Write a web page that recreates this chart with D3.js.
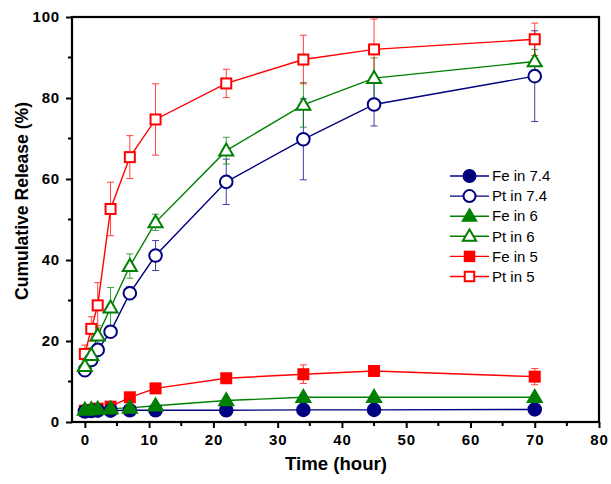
<!DOCTYPE html>
<html><head><meta charset="utf-8">
<script src="https://cdn.jsdelivr.net/npm/d3@7"></script>
<style>body{margin:0;background:#fff}svg{display:block}text{font-family:"Liberation Sans",Arial,sans-serif}</style>
</head><body><svg id="c" width="611" height="484"></svg>
<script>
const times = [0, 1, 2, 4, 7, 11, 22, 34, 45, 70];
const seriesNames = ["Fe in 7.4", "Pt in 7.4", "Fe in 6", "Pt in 6", "Fe in 5", "Pt in 5"];
const seriesColors = ["#000080", "#000080", "#008000", "#008000", "#ff0000", "#ff0000"];
const seriesShapes = ["circle", "circle", "triangle", "triangle", "square", "square"];
const seriesFilled = [true, false, true, false, true, false];
const fe74 = [2.6, 2.7, 2.8, 2.8, 2.9, 2.9, 2.9, 3.0, 3.0, 3.1];
const fe74Err = [0.3, 0.3, 0.3, 0.3, 0.3, 0.3, 0.3, 0.3, 0.3, 0.3];
const pt74 = [12.8, 15.3, 17.8, 22.3, 31.8, 41.1, 59.3, 69.8, 78.4, 85.4];
const pt74Err = [1.6, 1.2, 1.5, 1.5, 1.6, 3.7, 5.6, 10.0, 5.3, 11.2];
const fe6 = [3.0, 3.1, 3.2, 3.3, 3.5, 4.0, 5.3, 6.1, 6.1, 6.1];
const fe6Err = [0.4, 0.4, 0.4, 0.4, 0.4, 0.4, 0.5, 0.6, 0.5, 0.5];
const pt6 = [13.8, 16.5, 21.3, 28.2, 38.5, 49.3, 67.0, 78.3, 84.9, 89.0];
const pt6Err = [1.5, 1.8, 2.5, 5.0, 3.0, 2.0, 3.3, 5.5, 5.0, 3.0];
const fe5 = [2.8, 3.0, 3.3, 3.8, 6.1, 8.3, 10.8, 11.8, 12.6, 11.2];
const fe5Err = [0.4, 0.4, 0.4, 0.5, 0.6, 0.8, 1.0, 2.3, 1.2, 2.0];
const pt5 = [16.8, 23.0, 28.8, 52.6, 65.4, 74.7, 83.6, 89.5, 92.0, 94.5];
const pt5Err = [2.2, 3.0, 5.6, 6.6, 5.3, 8.8, 3.5, 6.0, 7.5, 4.0];
const xTicks = [0, 10, 20, 30, 40, 50, 60, 70, 80];
const yTicks = [0, 20, 40, 60, 80, 100];

const values = [fe74, pt74, fe6, pt6, fe5, pt5];
const errors = [fe74Err, pt74Err, fe6Err, pt6Err, fe5Err, pt5Err];

const svg = d3.select("#c");
const L = 72, R = 599, T = 17, B = 422;
const x = d3.scaleLinear().domain([-2, 80]).range([L, R]);
const y = d3.scaleLinear().domain([0, 100]).range([B, T]);

// axes
const xAxis = svg.append("g").attr("transform", `translate(0,${B})`)
  .call(d3.axisBottom(x).tickValues(xTicks).tickSize(6).tickPadding(6).tickSizeOuter(0));
const yAxis = svg.append("g").attr("transform", `translate(${L},0)`)
  .call(d3.axisLeft(y).tickValues(yTicks).tickSize(6).tickPadding(6).tickSizeOuter(0));
[xAxis, yAxis].forEach(a => {
  a.select(".domain").remove();
  a.selectAll(".tick line").attr("stroke", "#000").attr("stroke-width", 2);
  a.selectAll(".tick text").attr("font-size", 15).attr("font-weight", "bold").attr("fill", "#000")
    .attr("letter-spacing", 0.8)
    .attr("font-family", "'Liberation Sans', Arial, sans-serif");
});
// minor ticks
const xMinor = d3.range(5, 80, 10);
svg.append("g").selectAll("line").data(xMinor).join("line")
  .attr("x1", d => x(d)).attr("x2", d => x(d)).attr("y1", B).attr("y2", B + 4)
  .attr("stroke", "#000").attr("stroke-width", 2);
const yMinor = d3.range(10, 100, 20);
svg.append("g").selectAll("line").data(yMinor).join("line")
  .attr("y1", d => y(d)).attr("y2", d => y(d)).attr("x1", L).attr("x2", L - 4)
  .attr("stroke", "#000").attr("stroke-width", 2);

// frame
svg.append("rect").attr("x", L).attr("y", T).attr("width", R - L).attr("height", B - T)
  .attr("fill", "none").attr("stroke", "#000").attr("stroke-width", 2.2);

// titles
svg.append("text").attr("x", 336).attr("y", 470).attr("text-anchor", "middle")
  .attr("font-size", 18).attr("font-weight", "bold").attr("textLength", 102)
  .attr("lengthAdjust", "spacingAndGlyphs").text("Time (hour)");
svg.append("text").attr("transform", `translate(28,201) rotate(-90)`)
  .attr("text-anchor", "middle").attr("font-size", 17.5).attr("font-weight", "bold")
  .attr("textLength", 198).attr("lengthAdjust", "spacingAndGlyphs")
  .text("Cumulative Release (%)");

function marker(g, shape, cx, cy, color, filled, scale = 1) {
  const fill = filled ? color : "#fff";
  if (shape === "circle") {
    g.append("circle").attr("cx", cx).attr("cy", cy).attr("r", 6.3 * scale)
      .attr("fill", fill).attr("stroke", color).attr("stroke-width", 2);
  } else if (shape === "square") {
    const s = 10 * scale;
    g.append("rect").attr("x", cx - s / 2).attr("y", cy - s / 2).attr("width", s).attr("height", s)
      .attr("fill", fill).attr("stroke", color).attr("stroke-width", 2);
  } else {
    const h = 12 * scale, w = 14 * scale;
    g.append("path").attr("d", `M${cx},${cy - h * 0.6}L${cx + w / 2},${cy + h * 0.4}L${cx - w / 2},${cy + h * 0.4}Z`)
      .attr("fill", fill).attr("stroke", color).attr("stroke-width", 2).attr("stroke-linejoin", "miter");
  }
}

const plot = svg.append("g");
const line = d3.line().x(d => x(d[0])).y(d => y(d[1]));
// lines
values.forEach((vals, i) => {
  plot.append("path").datum(times.map((t, k) => [t, vals[k]]))
    .attr("d", line).attr("fill", "none").attr("stroke", seriesColors[i]).attr("stroke-width", 1.4);
});
// error bars
values.forEach((vals, i) => {
  const g = plot.append("g").attr("stroke", seriesColors[i]).attr("stroke-width", 1).attr("opacity", 0.75);
  times.forEach((t, k) => {
    const cx = x(t), lo = y(vals[k] - errors[i][k]), hi = y(vals[k] + errors[i][k]);
    g.append("line").attr("x1", cx).attr("x2", cx).attr("y1", lo).attr("y2", hi);
    g.append("line").attr("x1", cx - 3.5).attr("x2", cx + 3.5).attr("y1", lo).attr("y2", lo);
    g.append("line").attr("x1", cx - 3.5).attr("x2", cx + 3.5).attr("y1", hi).attr("y2", hi);
  });
});
// markers
const order = [4, 0, 2, 5, 1, 3];
order.forEach(i => {
  const g = plot.append("g");
  times.forEach((t, k) => marker(g, seriesShapes[i], x(t), y(values[i][k]), seriesColors[i], seriesFilled[i]));
});

// legend
const lg = svg.append("g");
seriesNames.forEach((name, i) => {
  const ly = 176 + i * 20.1;
  lg.append("line").attr("x1", 450).attr("x2", 489).attr("y1", ly).attr("y2", ly)
    .attr("stroke", seriesColors[i]).attr("stroke-width", 1.4);
  marker(lg, seriesShapes[i], 469.5, ly, seriesColors[i], seriesFilled[i], 0.95);
  lg.append("text").attr("x", 492).attr("y", ly + 5.2).attr("font-size", 15).attr("fill", "#000").text(name);
});
</script></body></html>
